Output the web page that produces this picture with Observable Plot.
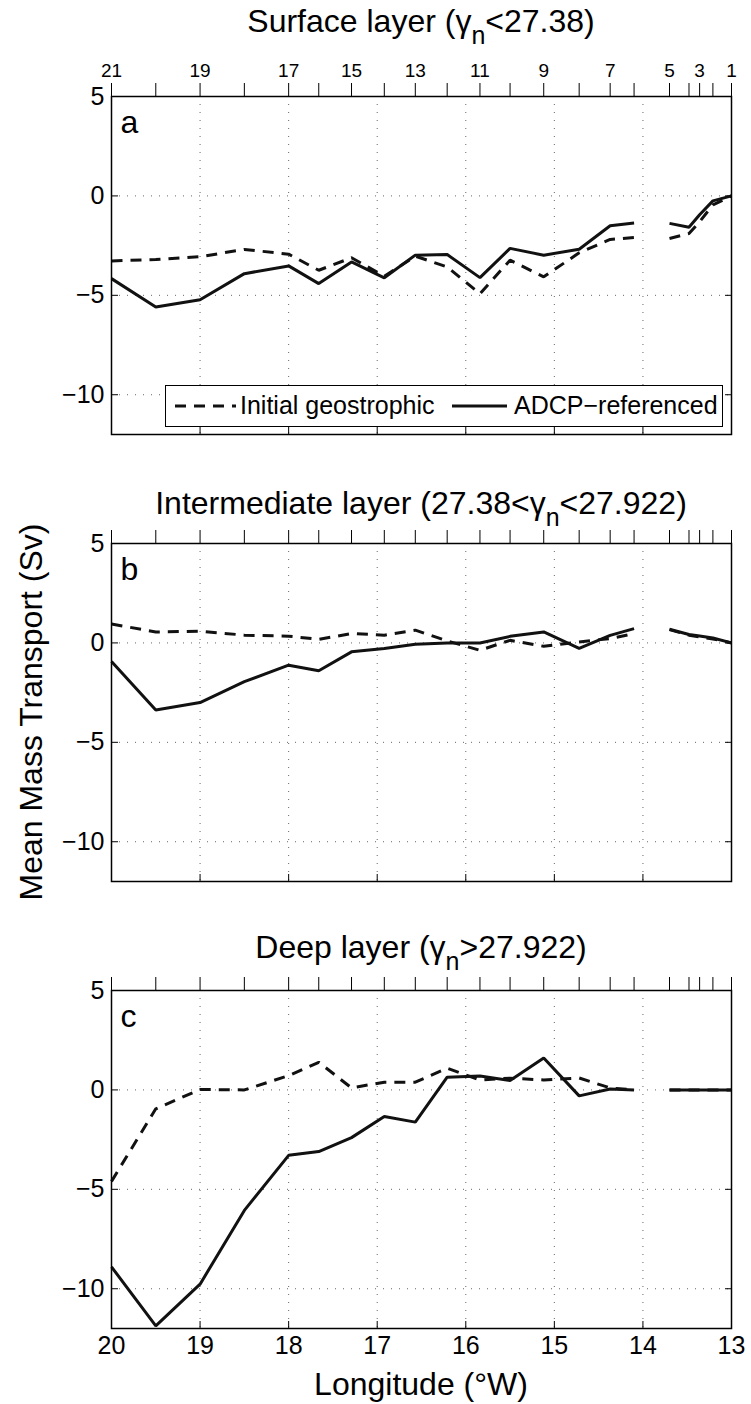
<!DOCTYPE html>
<html>
<head>
<meta charset="utf-8">
<script src="https://cdn.jsdelivr.net/npm/d3@7"></script>
<script src="https://cdn.jsdelivr.net/npm/@observablehq/plot@0.6"></script>
<style>
  body { margin: 0; background: #fff; }
  #chart { position: relative; width: 751px; height: 1404px; font-family: "Liberation Sans", Arial, sans-serif; color: #000; overflow: hidden; }
  .panel { position: absolute; left: 0; }
  .title { position: absolute; left: 111px; width: 620px; text-align: center; font-size: 32px; line-height: 32px; white-space: nowrap; }
  .title .sub { font-size: 25px; position: relative; top: 12px; }
  .ylab { position: absolute; left: 31px; top: 712px; font-size: 32px; line-height: 32px; white-space: nowrap; transform: translate(-50%, -50%) rotate(-90deg); }
  .xlab { position: absolute; left: 111px; width: 620px; text-align: center; top: 1368px; font-size: 32px; line-height: 32px; }
  .legend { position: absolute; left: 165px; top: 385px; width: 556px; height: 40px; border: 1.5px solid #000; background: #fff; }
  .legend svg { position: absolute; left: 0; top: 0; }
  .legend span { position: absolute; top: 7px; font-size: 25px; line-height: 25px; white-space: nowrap; }
</style>
</head>
<body>
<div id="chart"></div>
<script>
// Station numbers (top axis) and their longitudes (°W)
const stations   = [21, 20, 19, 18, 17, 16, 15, 14, 13, 12, 11, 10, 9, 8, 7, 6, 5, 4, 3, 2, 1];
const stationLon = [20.0, 19.5, 19.0, 18.5, 18.0, 17.66, 17.29, 16.92, 16.57, 16.21, 15.84, 15.5, 15.12, 14.72, 14.37, 14.10, 13.70, 13.48, 13.36, 13.21, 13.0];
// the section is interrupted between station 6 and station 5
const leg = ["w","w","w","w","w","w","w","w","w","w","w","w","w","w","w","w","e","e","e","e","e"];

// Mean mass transport (Sv)
const surfaceGeo  = [-3.27, -3.2, -3.06, -2.69, -2.93, -3.74, -3.11, -4.04, -3.03, -3.57, -4.92, -3.23, -4.07, -2.86, -2.19, -2.09, -2.14, -1.89, -1.3, -0.45, 0];
const surfaceAdcp = [-4.16, -5.59, -5.22, -3.91, -3.52, -4.41, -3.32, -4.12, -2.98, -2.95, -4.11, -2.64, -2.98, -2.68, -1.50, -1.36, -1.38, -1.58, -0.95, -0.25, 0];
const interGeo    = [0.95, 0.55, 0.59, 0.39, 0.34, 0.18, 0.47, 0.39, 0.64, 0.1, -0.37, 0.13, -0.17, 0.05, 0.22, 0.47, 0.67, 0.39, 0.3, 0.2, 0];
const interAdcp   = [-0.93, -3.37, -3.0, -1.95, -1.12, -1.4, -0.45, -0.28, -0.07, 0.0, 0.0, 0.33, 0.55, -0.28, 0.38, 0.72, 0.69, 0.42, 0.35, 0.25, 0];
const deepGeo     = [-4.6, -0.95, 0.02, 0.0, 0.72, 1.39, 0.10, 0.39, 0.39, 1.09, 0.5, 0.59, 0.5, 0.6, 0.1, 0.0, 0, 0, 0, 0, 0];
const deepAdcp    = [-8.9, -11.87, -9.77, -6.06, -3.29, -3.1, -2.4, -1.34, -1.62, 0.64, 0.70, 0.47, 1.61, -0.30, 0.05, 0.0, 0, 0, 0, 0, 0];

const xTicks = [20, 19, 18, 17, 16, 15, 14, 13];
const xInner = [19, 18, 17, 16, 15, 14];
const yTicks = [5, 0, -5, -10];
const yGrid  = [0, -5, -10];
const panelLetters = ["a", "b", "c"];
const titlesHTML = [
  'Surface layer (γ<span class="sub">n</span>&lt;27.38)',
  'Intermediate layer (27.38&lt;γ<span class="sub">n</span>&lt;27.922)',
  'Deep layer (γ<span class="sub">n</span>&gt;27.922)'
];
const legendLabels = ["Initial geostrophic", "ADCP\u2212referenced"];

const chart = document.getElementById("chart");
const FONT = '"Liberation Sans", Arial, sans-serif';

function makePanel(idx, geo, adcp) {
  const rows = stationLon.map((lon, i) => ({lon, st: stations[i], leg: leg[i], geo: geo[i], adcp: adcp[i]}));
  const last = idx === 2;
  const height = last ? 510 : 447;
  const marginBottom = height - 96 - 338;
  const stLabel = new Map(stationLon.map((lon, i) => [lon, stations[i]]));
  const marks = [
    Plot.gridX(xInner, {stroke: "#666", strokeOpacity: 1, strokeWidth: 1, strokeDasharray: "1,7"}),
    Plot.gridY(yGrid, {stroke: "#666", strokeOpacity: 1, strokeWidth: 1, strokeDasharray: "1,7"}),
    // inward ticks
    Plot.axisX(xInner, {anchor: "bottom", tickSize: -7, fill: "none", stroke: "#000"}),
    Plot.axisY(yTicks, {anchor: "left", tickSize: -7, fill: "none", stroke: "#000"}),
    Plot.axisY(yTicks, {anchor: "right", tickSize: -7, fill: "none", stroke: "#000"}),
    // y tick labels
    Plot.axisY(yTicks, {anchor: "left", tickSize: 0, tickPadding: 7, fontSize: 25, label: null, tickFormat: d3.format("d")}),
    // station axis on top
    Plot.axisX(stationLon, {anchor: "top", tickSize: 14, tickPadding: 6, fontSize: 19, label: null,
      tickFormat: d => (idx === 0 && stLabel.get(d) % 2 === 1) ? String(stLabel.get(d)) : ""}),
    Plot.line(rows, {x: "lon", y: "geo", z: "leg", stroke: "#111", strokeWidth: 3, strokeDasharray: "11,8", strokeLinecap: "butt", strokeLinejoin: "miter"}),
    Plot.line(rows, {x: "lon", y: "adcp", z: "leg", stroke: "#111", strokeWidth: 3, strokeLinecap: "butt", strokeLinejoin: "miter"}),
    Plot.frame({stroke: "#000", strokeWidth: 1.5}),
    Plot.text([panelLetters[idx]], {text: d => d, frameAnchor: "top-left", textAnchor: "start", lineAnchor: "bottom", dx: 9, dy: 36, fontSize: 32, fill: "#000"})
  ];
  if (last) {
    marks.push(Plot.axisX(xTicks, {anchor: "bottom", tickSize: 0, tickPadding: 8, fontSize: 25, label: null, tickFormat: d3.format("d")}));
  }
  const svg = Plot.plot({
    width: 751, height,
    marginLeft: 111, marginRight: 20, marginTop: 96, marginBottom,
    style: {fontFamily: FONT, color: "#000", background: "transparent", overflow: "visible"},
    x: {domain: [20, 13]},
    y: {domain: [-12, 5]},
    marks
  });
  svg.classList.add("panel");
  svg.style.position = "absolute";
  svg.style.top = (idx * 447) + "px";
  svg.style.left = "0px";
  chart.appendChild(svg);
}

makePanel(0, surfaceGeo, surfaceAdcp);
makePanel(1, interGeo, interAdcp);
makePanel(2, deepGeo, deepAdcp);

// titles
const titleTops = [5, 487, 931];
titlesHTML.forEach((h, i) => {
  const d = document.createElement("div");
  d.className = "title";
  d.style.top = titleTops[i] + "px";
  d.innerHTML = h;
  chart.appendChild(d);
});

// axis labels
const yl = document.createElement("div");
yl.className = "ylab";
yl.textContent = "Mean Mass Transport (Sv)";
chart.appendChild(yl);
const xl = document.createElement("div");
xl.className = "xlab";
xl.textContent = "Longitude (\u00b0W)";
chart.appendChild(xl);

// legend (panel a)
const lg = document.createElement("div");
lg.className = "legend";
lg.innerHTML = `<svg width="556" height="40">
  <line x1="9" x2="70" y1="20" y2="20" stroke="#111" stroke-width="3" stroke-dasharray="11,8"/>
  <line x1="286" x2="341" y1="20" y2="20" stroke="#111" stroke-width="3"/>
</svg>
<span style="left:74px">${legendLabels[0]}</span>
<span style="left:348px">${legendLabels[1]}</span>`;
chart.appendChild(lg);
</script>
</body>
</html>
